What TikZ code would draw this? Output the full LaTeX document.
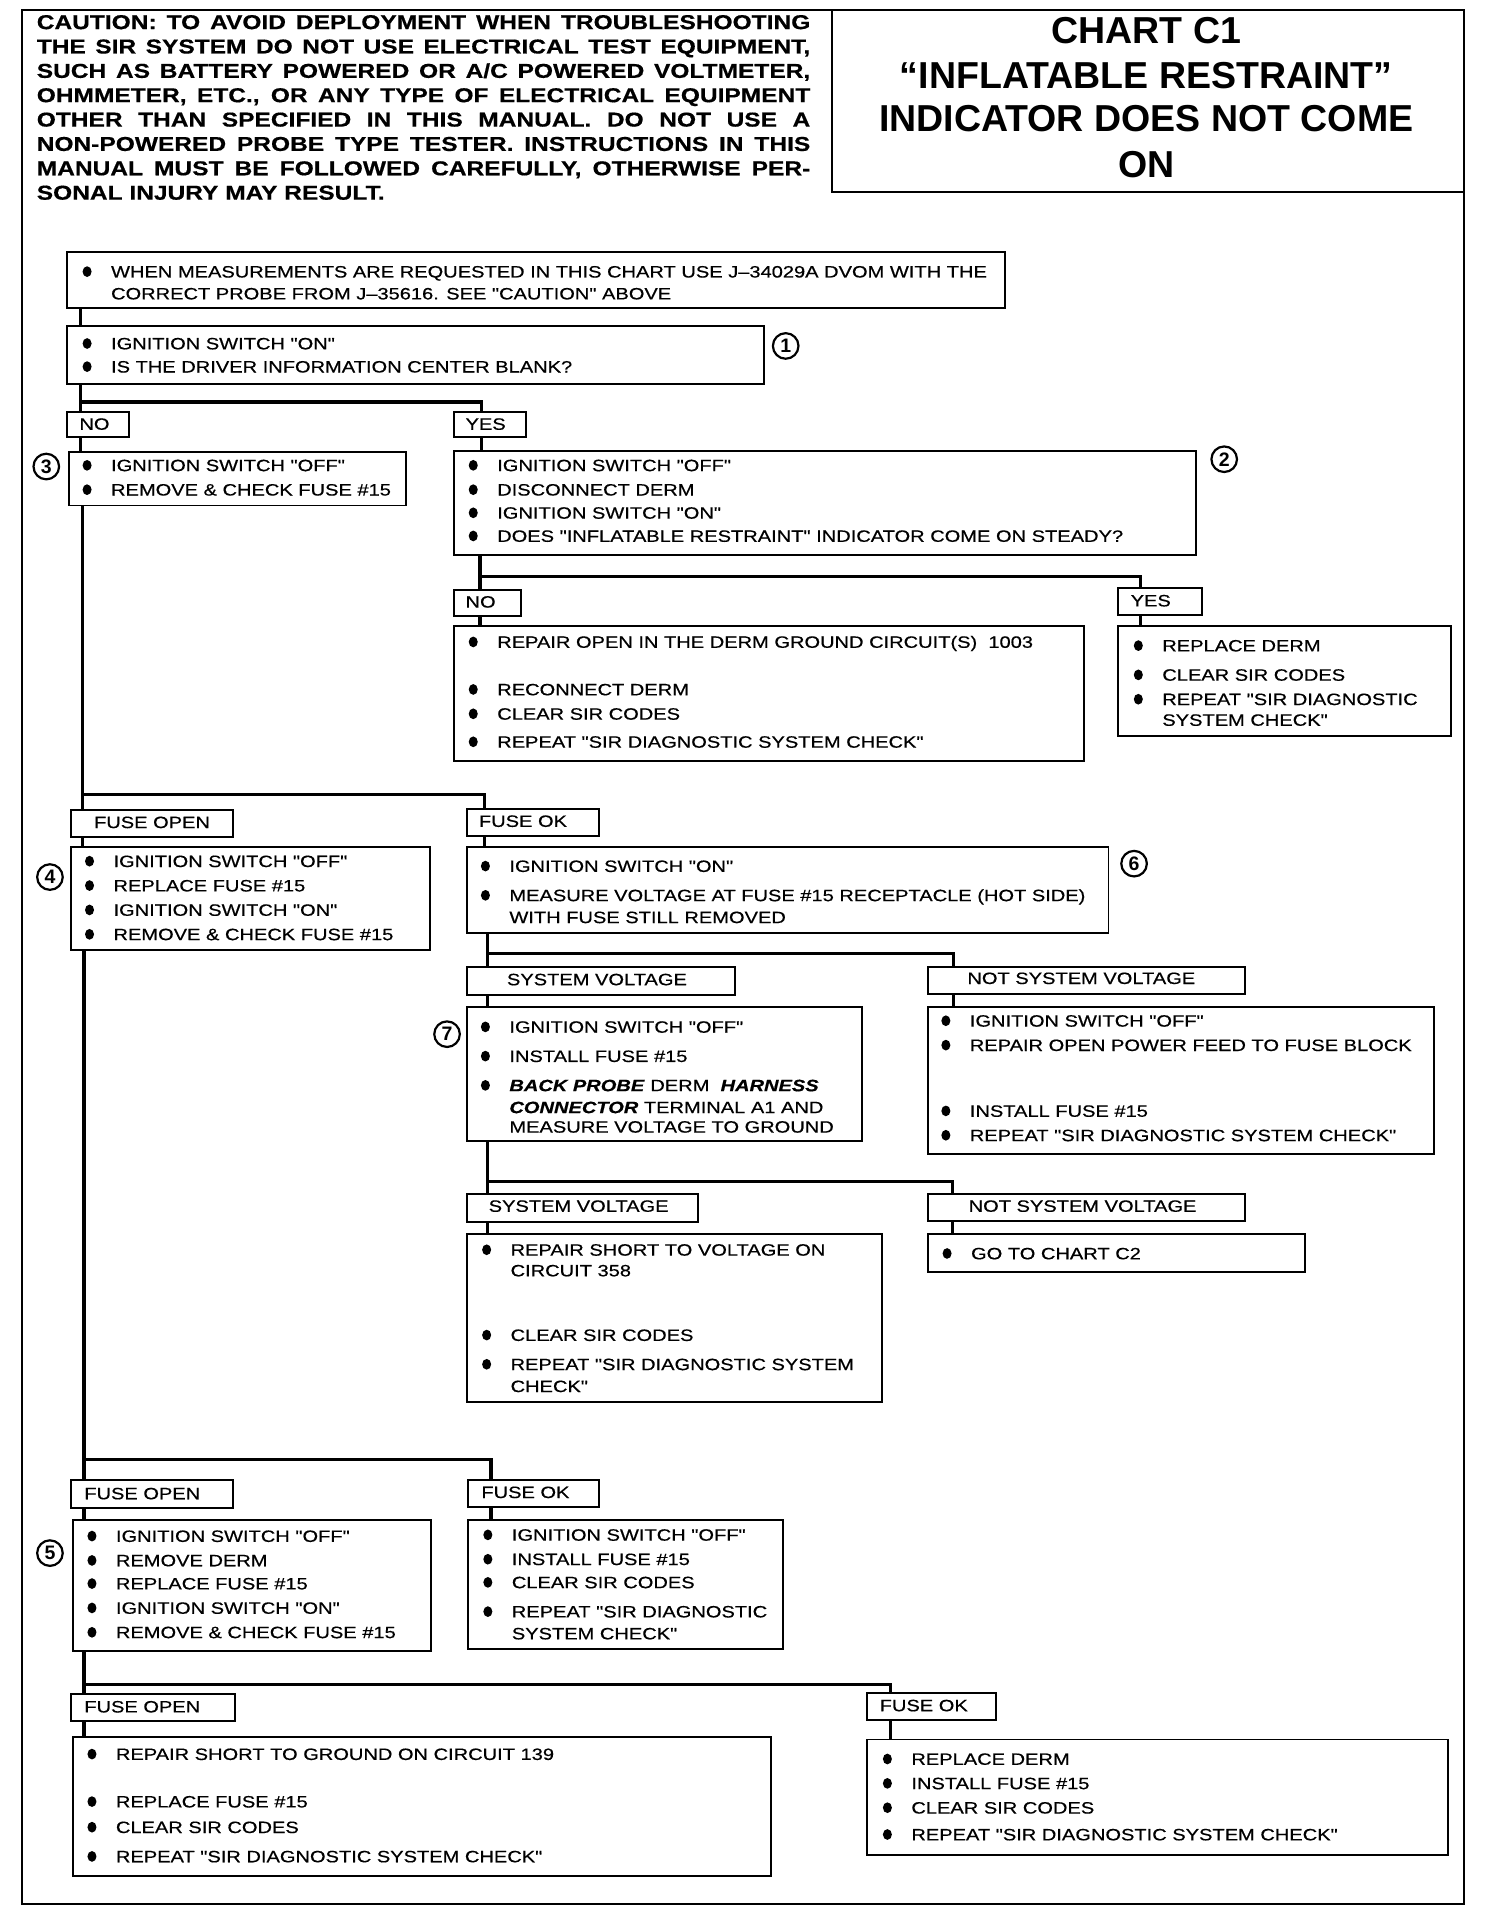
\documentclass[tikz,border=0pt]{standalone}
\usepackage{fontspec}
\newfontfamily\bodyfam{Liberation Sans}[FakeStretch=1.22, FakeBold=0.5]
\newfontfamily\ttlfont{Liberation Sans}
\usetikzlibrary{fit}
\newcommand\bodyf{\bodyfam\fontsize{13.5}{16}\selectfont}
\newcommand\cautf{\bodyfam\fontsize{16.5}{20}\selectfont\bfseries}
\newcommand\headf{\ttlfont\fontsize{30.8}{36}\selectfont\bfseries}
\newcommand\numf{\ttlfont\fontsize{16}{16}\selectfont\bfseries}
\newcommand\bline[4]{\fill ({#2-19.5},#3) ellipse (3.7pt and 4.4pt); \node[tx] (#1) at (#2,#3) {#4};}
\newcommand\pline[4]{\node[tx] (#1) at (#2,#3) {#4};}
\newcommand\cautline[3]{\node[ct] (#1) at (30,#2) {\makebox[635pt][s]{#3}};}
\tikzset{
  bx/.style={draw, line width=1.6pt, inner sep=0pt, rectangle},
  lb/.style={draw, line width=1.6pt, inner sep=0pt, rectangle, fill=white},
  conn/.style={line width=2.7pt, line join=miter},
  frm/.style={line width=1.9pt},
  tx/.style={anchor=base west, inner sep=0pt, font=\bodyf, yshift=-4.8pt},
  ct/.style={anchor=base west, inner sep=0pt, font=\cautf, yshift=-5.9pt},
  hd/.style={anchor=base, inner sep=0pt, font=\headf, yshift=-11pt},
  num/.style={draw, circle, line width=1.8pt, minimum size=21pt, inner sep=0pt, font=\numf},
}
\begin{document}
\begin{tikzpicture}[x=1pt,y=-1pt]
\fill[white] (0,0) rectangle (1235,1568);
\useasboundingbox (0,0) rectangle (1235,1568);
% frame and title
\draw[frm] (18,8) rectangle (1202,1563);
\node[bx, fit={(683,8) (1202,158)}] (ttl) {};
\node[hd] (h1) at (941,25) {CHART C1};
\node[hd] (h2) at (941,62) {“INFLATABLE RESTRAINT”};
\node[hd] (h3) at (941,97) {INDICATOR DOES NOT COME};
\node[hd] (h4) at (941,135) {ON};
% caution
\cautline{ca1}{18}{CAUTION: TO AVOID DEPLOYMENT WHEN TROUBLESHOOTING}
\cautline{ca2}{38}{THE SIR SYSTEM DO NOT USE ELECTRICAL TEST EQUIPMENT,}
\cautline{ca3}{58}{SUCH AS BATTERY POWERED OR A/C POWERED VOLTMETER,}
\cautline{ca4}{78}{OHMMETER, ETC., OR ANY TYPE OF ELECTRICAL EQUIPMENT}
\cautline{ca5}{98}{OTHER THAN SPECIFIED IN THIS MANUAL. DO NOT USE A}
\cautline{ca6}{118}{NON-POWERED PROBE TYPE TESTER. INSTRUCTIONS IN THIS}
\cautline{ca7}{138}{MANUAL MUST BE FOLLOWED CAREFULLY, OTHERWISE PER-}
\node[ct] (ca8) at (30,158) {SONAL INJURY MAY RESULT.};
% boxes
\node[bx, fit={(55,207) (825,253)}] (bA) {};
\node[bx, fit={(55,268) (627,315)}] (b1) {};
\node[lb, fit={(55,338) (106,359)}] (no1) {};
\node[lb, fit={(373,338) (432,359)}] (yes1) {};
\node[bx, fit={(57,371) (333,415)}] (b3) {};
\node[bx, fit={(373,370) (982,456)}] (b2) {};
\node[lb, fit={(373,484) (428,506)}] (no2) {};
\node[lb, fit={(918,483) (987,505)}] (yes2) {};
\node[bx, fit={(373,514) (890,625)}] (bno2) {};
\node[bx, fit={(918,514) (1191,604)}] (byes2) {};
\node[lb, fit={(58,665) (191,687)}] (fo1) {};
\node[lb, fit={(383,664) (492,686)}] (fok1) {};
\node[bx, fit={(58,695) (353,780)}] (b4) {};
\node[bx, fit={(383,695) (910,766)}] (b6) {};
\node[lb, fit={(383,794) (603,817)}] (sv1) {};
\node[lb, fit={(762,794) (1022,816)}] (nsv1) {};
\node[bx, fit={(383,827) (708,937)}] (b7) {};
\node[bx, fit={(762,827) (1177,947)}] (bnsv) {};
\node[lb, fit={(383,980) (573,1003)}] (sv2) {};
\node[lb, fit={(762,980) (1022,1002)}] (nsv2) {};
\node[bx, fit={(383,1013) (724,1151)}] (brs) {};
\node[bx, fit={(762,1013) (1071,1044)}] (bgo) {};
\node[lb, fit={(58,1215) (191,1238)}] (fo2) {};
\node[lb, fit={(384,1215) (492,1237)}] (fok2) {};
\node[bx, fit={(60,1248) (354,1355)}] (b5) {};
\node[bx, fit={(384,1248) (643,1354)}] (bok3) {};
\node[lb, fit={(58,1391) (193,1413)}] (fo3) {};
\node[lb, fit={(712,1390) (818,1412)}] (fok3) {};
\node[bx, fit={(60,1426) (633,1540)}] (brsg) {};
\node[bx, fit={(712,1428) (1189,1523)}] (bok4) {};
% texts
\bline{tA1}{91}{223}{WHEN MEASUREMENTS ARE REQUESTED IN THIS CHART USE J–34029A DVOM WITH THE}
\pline{tA2}{91}{241}{CORRECT PROBE FROM J–35616. SEE "CAUTION" ABOVE}
\bline{t11}{91}{282}{IGNITION SWITCH "ON"}
\bline{t12}{91}{301}{IS THE DRIVER INFORMATION CENTER BLANK?}
\pline{tno1}{65}{348}{NO}
\pline{tyes1}{382}{348}{YES}
\bline{t31}{91}{382}{IGNITION SWITCH "OFF"}
\bline{t32}{91}{402}{REMOVE \& CHECK FUSE \#15}
\bline{t21}{408}{382}{IGNITION SWITCH "OFF"}
\bline{t22}{408}{402}{DISCONNECT DERM}
\bline{t23}{408}{421}{IGNITION SWITCH "ON"}
\bline{t24}{408}{440}{DOES "INFLATABLE RESTRAINT" INDICATOR COME ON STEADY?}
\pline{tno2}{382}{494}{NO}
\pline{tyes2}{928}{493}{YES}
\bline{tn1}{408}{527}{REPAIR OPEN IN THE DERM GROUND CIRCUIT(S) \ 1003}
\bline{tn2}{408}{566}{RECONNECT DERM}
\bline{tn3}{408}{586}{CLEAR SIR CODES}
\bline{tn4}{408}{609}{REPEAT "SIR DIAGNOSTIC SYSTEM CHECK"}
\bline{ty1}{954}{530}{REPLACE DERM}
\bline{ty2}{954}{554}{CLEAR SIR CODES}
\bline{ty3}{954}{574}{REPEAT "SIR DIAGNOSTIC}
\pline{ty4}{954}{591}{SYSTEM CHECK"}
\pline{tfo1}{77}{675}{FUSE OPEN}
\pline{tfok1}{393}{674}{FUSE OK}
\bline{t41}{93}{707}{IGNITION SWITCH "OFF"}
\bline{t42}{93}{727}{REPLACE FUSE \#15}
\bline{t43}{93}{747}{IGNITION SWITCH "ON"}
\bline{t44}{93}{767}{REMOVE \& CHECK FUSE \#15}
\bline{t61}{418}{711}{IGNITION SWITCH "ON"}
\bline{t62}{418}{735}{MEASURE VOLTAGE AT FUSE \#15 RECEPTACLE (HOT SIDE)}
\pline{t63}{418}{753}{WITH FUSE STILL REMOVED}
\pline{tsv1}{416}{804}{SYSTEM VOLTAGE}
\pline{tnsv1}{794}{803}{NOT SYSTEM VOLTAGE}
\bline{t71}{418}{843}{IGNITION SWITCH "OFF"}
\bline{t72}{418}{867}{INSTALL FUSE \#15}
\bline{t73}{418}{891}{\textbf{\textit{BACK PROBE}} DERM \ \textbf{\textit{HARNESS}}}
\pline{t74}{418}{909}{\textbf{\textit{CONNECTOR}} TERMINAL A1 AND}
\pline{t75}{418}{925}{MEASURE VOLTAGE TO GROUND}
\bline{tp1}{796}{838}{IGNITION SWITCH "OFF"}
\bline{tp2}{796}{858}{REPAIR OPEN POWER FEED TO FUSE BLOCK}
\bline{tp3}{796}{912}{INSTALL FUSE \#15}
\bline{tp4}{796}{932}{REPEAT "SIR DIAGNOSTIC SYSTEM CHECK"}
\pline{tsv2}{401}{990}{SYSTEM VOLTAGE}
\pline{tnsv2}{795}{990}{NOT SYSTEM VOLTAGE}
\bline{tr1}{419}{1026}{REPAIR SHORT TO VOLTAGE ON}
\pline{tr2}{419}{1043}{CIRCUIT 358}
\bline{tr3}{419}{1096}{CLEAR SIR CODES}
\bline{tr4}{419}{1120}{REPEAT "SIR DIAGNOSTIC SYSTEM}
\pline{tr5}{419}{1138}{CHECK"}
\bline{tg1}{797}{1029}{GO TO CHART C2}
\pline{tfo2}{69}{1226}{FUSE OPEN}
\pline{tfok2}{395}{1225}{FUSE OK}
\bline{t51}{95}{1261}{IGNITION SWITCH "OFF"}
\bline{t52}{95}{1281}{REMOVE DERM}
\bline{t53}{95}{1300}{REPLACE FUSE \#15}
\bline{t54}{95}{1320}{IGNITION SWITCH "ON"}
\bline{t55}{95}{1340}{REMOVE \& CHECK FUSE \#15}
\bline{tk1}{420}{1260}{IGNITION SWITCH "OFF"}
\bline{tk2}{420}{1280}{INSTALL FUSE \#15}
\bline{tk3}{420}{1299}{CLEAR SIR CODES}
\bline{tk4}{420}{1323}{REPEAT "SIR DIAGNOSTIC}
\pline{tk5}{420}{1341}{SYSTEM CHECK"}
\pline{tfo3}{69}{1401}{FUSE OPEN}
\pline{tfok3}{722}{1400}{FUSE OK}
\bline{tg21}{95}{1440}{REPAIR SHORT TO GROUND ON CIRCUIT 139}
\bline{tg22}{95}{1479}{REPLACE FUSE \#15}
\bline{tg23}{95}{1500}{CLEAR SIR CODES}
\bline{tg24}{95}{1524}{REPEAT "SIR DIAGNOSTIC SYSTEM CHECK"}
\bline{tq1}{748}{1444}{REPLACE DERM}
\bline{tq2}{748}{1464}{INSTALL FUSE \#15}
\bline{tq3}{748}{1484}{CLEAR SIR CODES}
\bline{tq4}{748}{1506}{REPEAT "SIR DIAGNOSTIC SYSTEM CHECK"}
% step numbers
\node[num] (c1) at (645,284) {1};
\node[num] (c2) at (1005,377) {2};
\node[num] (c3) at (38,383) {3};
\node[num] (c4) at (41,720) {4};
\node[num] (c5) at (41,1275) {5};
\node[num] (c6) at (931,709) {6};
\node[num] (c7) at (367,849) {7};
% connector guides
\coordinate (vL1) at (66,0);
\coordinate (vY1) at (395,0);
\coordinate (vN2) at (394,0);
\coordinate (vY2) at (936,0);
\coordinate (vL2) at (68,0);
\coordinate (vK1) at (398,0);
\coordinate (vS) at (400,0);
\coordinate (vNS) at (783,0);
\coordinate (vNS2) at (782,0);
\coordinate (vL3) at (69,0);
\coordinate (vK2) at (403,0);
\coordinate (vK3) at (731,0);
\coordinate (h1) at (0,330);
\coordinate (h3) at (0,473);
\coordinate (h2) at (0,652);
\coordinate (h4) at (0,783);
\coordinate (h5) at (0,970);
\coordinate (h6) at (0,1198);
\coordinate (h7) at (0,1383);
% connectors
\draw[conn] (bA.south -| vL1) -- (b1.north -| vL1);
\draw[conn] (b1.south -| vL1) -- (no1.north -| vL1);
\draw[conn] (vL1 |- h1) -| (yes1.north -| vY1);
\draw[conn] (no1.south -| vL1) -- (b3.north -| vL1);
\draw[conn] (yes1.south -| vY1) -- (b2.north -| vY1);
\draw[conn] (b2.south -| vN2) -- (no2.north -| vN2);
\draw[conn] (vN2 |- h3) -| (yes2.north -| vY2);
\draw[conn] (no2.south -| vN2) -- (bno2.north -| vN2);
\draw[conn] (yes2.south -| vY2) -- (byes2.north -| vY2);
\draw[conn] (b3.south -| vL2) -- (fo1.north -| vL2);
\draw[conn] (vL2 |- h2) -| (fok1.north -| vK1);
\draw[conn] (fo1.south -| vL2) -- (b4.north -| vL2);
\draw[conn] (fok1.south -| vK1) -- (b6.north -| vK1);
\draw[conn] (b6.south -| vS) -- (sv1.north -| vS);
\draw[conn] (vS |- h4) -| (nsv1.north -| vNS);
\draw[conn] (sv1.south -| vS) -- (b7.north -| vS);
\draw[conn] (nsv1.south -| vNS) -- (bnsv.north -| vNS);
\draw[conn] (b7.south -| vS) -- (sv2.north -| vS);
\draw[conn] (vS |- h5) -| (nsv2.north -| vNS2);
\draw[conn] (sv2.south -| vS) -- (brs.north -| vS);
\draw[conn] (nsv2.south -| vNS2) -- (bgo.north -| vNS2);
\draw[conn] (b4.south -| vL3) -- (fo2.north -| vL3);
\draw[conn] (vL3 |- h6) -| (fok2.north -| vK2);
\draw[conn] (fo2.south -| vL3) -- (b5.north -| vL3);
\draw[conn] (fok2.south -| vK2) -- (bok3.north -| vK2);
\draw[conn] (b5.south -| vL3) -- (fo3.north -| vL3);
\draw[conn] (vL3 |- h7) -| (fok3.north -| vK3);
\draw[conn] (fo3.south -| vL3) -- (brsg.north -| vL3);
\draw[conn] (fok3.south -| vK3) -- (bok4.north -| vK3);
\end{tikzpicture}
\end{document}
